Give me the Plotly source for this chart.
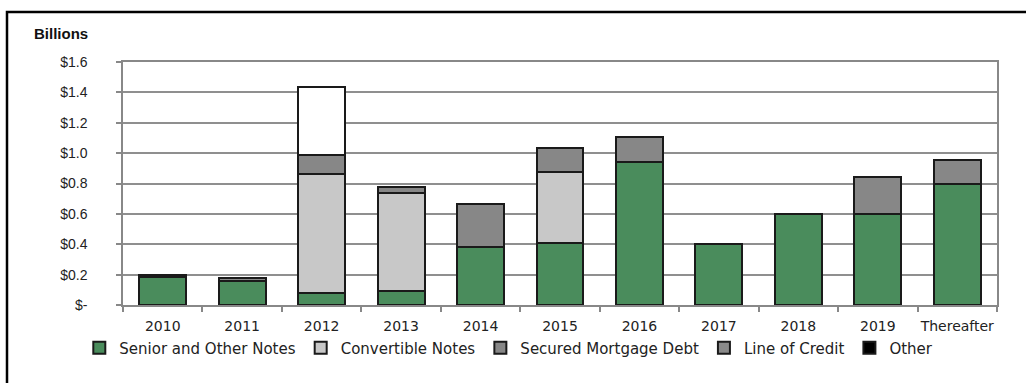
import plotly.graph_objects as go

categories = ["2010", "2011", "2012", "2013", "2014", "2015", "2016", "2017", "2018", "2019", "Thereafter"]
senior = [0.185, 0.155, 0.08, 0.09, 0.38, 0.41, 0.94, 0.40, 0.60, 0.60, 0.795]
convertible = [0, 0, 0.78, 0.645, 0, 0.465, 0, 0, 0, 0, 0]
secured = [0, 0, 0.13, 0.045, 0.285, 0.16, 0.165, 0, 0, 0.245, 0.16]
line_credit = [0, 0.025, 0, 0, 0, 0, 0, 0, 0, 0, 0]
other = [0.012, 0, 0.446, 0, 0, 0, 0, 0, 0, 0, 0]
other_colors = ["#000000", "#000000", "#ffffff", "#000000", "#000000", "#000000",
                "#000000", "#000000", "#000000", "#000000", "#000000"]
tick_vals = [0, 0.2, 0.4, 0.6, 0.8, 1.0, 1.2, 1.4, 1.6]
tick_text = ["$-", "$0.2", "$0.4", "$0.6", "$0.8", "$1.0", "$1.2", "$1.4", "$1.6"]

FONT = "DejaVu Sans, Liberation Sans, Arial, sans-serif"
ARIAL = "Liberation Sans, Arial, sans-serif"
edge = dict(color="#1a1a1a", width=2)

fig = go.Figure()
fig.add_trace(go.Bar(x=categories, y=senior, name="Senior and Other Notes",
                     marker=dict(color="#4a8c5c", line=edge)))
fig.add_trace(go.Bar(x=categories, y=convertible, name="Convertible Notes",
                     marker=dict(color="#c8c8c8", line=edge)))
fig.add_trace(go.Bar(x=categories, y=secured, name="Secured Mortgage Debt",
                     marker=dict(color="#878787", line=edge)))
fig.add_trace(go.Bar(x=categories, y=line_credit, name="Line of Credit",
                     marker=dict(color="#8a8a8a", line=edge)))
fig.add_trace(go.Bar(x=categories, y=other, name="Other",
                     marker=dict(color=other_colors, line=edge)))

fig.update_layout(
    barmode="stack",
    bargap=0.41,
    width=1026, height=383,
    margin=dict(l=123, r=29, t=62, b=78, autoexpand=False),
    paper_bgcolor="white",
    plot_bgcolor="white",
    font=dict(family=FONT, size=13, color="#222222"),
    showlegend=True,
    legend=dict(orientation="h", x=-0.05, xanchor="left", y=-0.177, yanchor="middle",
                font=dict(size=15, family=FONT, color="#222222"),
                traceorder="normal", itemwidth=30, tracegroupgap=0),
    xaxis=dict(
        type="category",
        tickson="boundaries",
        tickangle=0,
        automargin=False,
        ticks="outside", ticklen=5, tickcolor="#888888", tickwidth=1.5,
        showline=True, linecolor="#888888", linewidth=1.5, mirror=True,
        showgrid=False,
        ticklabelstandoff=7,
        tickfont=dict(size=14, family=FONT, color="#222222"),
    ),
    yaxis=dict(
        range=[0, 1.6],
        automargin=False,
        tickvals=tick_vals, ticktext=tick_text,
        ticks="outside", ticklen=5, tickcolor="#888888", tickwidth=1.5,
        showline=True, linecolor="#888888", linewidth=1.5, mirror=True,
        showgrid=True, gridcolor="#8f8f8f", gridwidth=1.5,
        zeroline=False,
        ticklabelstandoff=26,
        tickfont=dict(size=14, family=ARIAL, color="#222222"),
    ),
    annotations=[dict(text="<b>Billions</b>", xref="paper", yref="paper",
                      x=(32 - 123) / 874, y=(305 - 33) / 243, xanchor="left", yanchor="middle",
                      showarrow=False, font=dict(size=15, family=ARIAL, color="#111111"))],
    shapes=[dict(type="rect", xref="paper", yref="paper",
                 x0=(7 - 123) / 874, x1=(1040 - 123) / 874,
                 y0=(305 - 400) / 243, y1=(305 - 12) / 243,
                 line=dict(color="#000000", width=2.5), layer="below")],
)

fig.write_html("out.html")
